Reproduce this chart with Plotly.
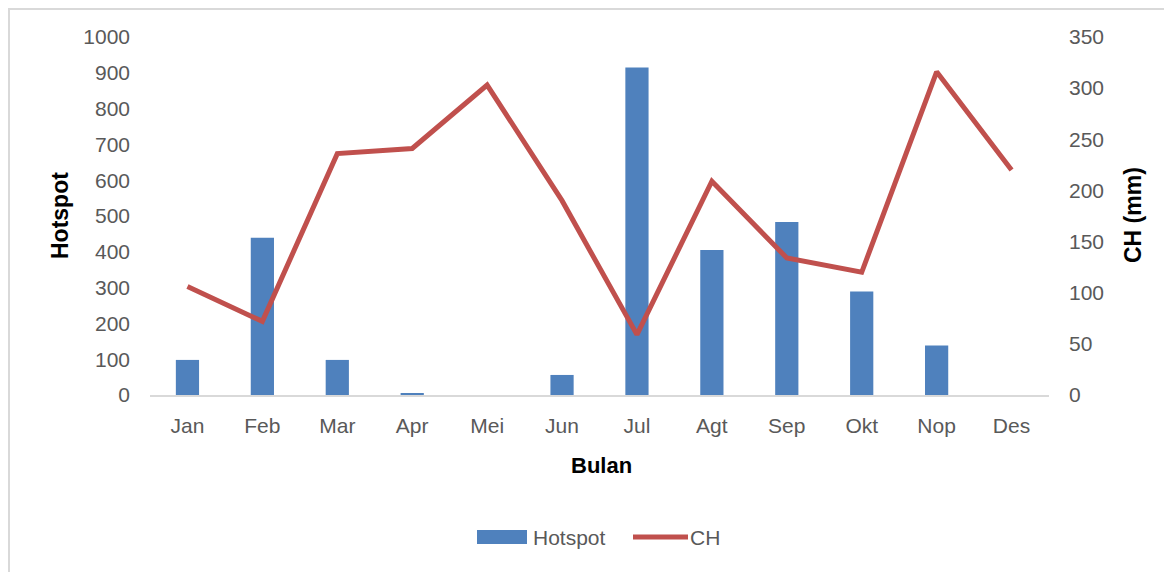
import plotly.graph_objects as go

bulan = ["Jan", "Feb", "Mar", "Apr", "Mei", "Jun", "Jul", "Agt", "Sep", "Okt", "Nop", "Des"]
hotspot = [98, 439, 98, 5, 0, 56, 915, 405, 483, 289, 138, 0]
ch_mm = [106, 72, 236, 241, 303, 190, 59, 209, 134, 120, 316, 220]

left_ticks = list(range(0, 1001, 100))
right_ticks = list(range(0, 351, 50))

FONT = "Liberation Sans"
GRAY = "#595959"
BLUE = "#4F81BD"
RED = "#C0504D"

# plot area in page pixels: x 150..1049, y 37..395
def px(x):
    return (x - 150) / 899

def py(y):
    return (395 - y) / 358

fig = go.Figure()
fig.add_trace(go.Bar(x=bulan, y=hotspot, name="Hotspot", marker=dict(color=BLUE, line=dict(width=0)),
                     yaxis="y", showlegend=False))
fig.add_trace(go.Scatter(x=bulan, y=ch_mm, name="CH", mode="lines", line=dict(color=RED, width=5),
                         yaxis="y2", showlegend=False))

fig.update_layout(
    width=1164, height=564,
    margin=dict(l=142, r=123, t=29, b=177),
    paper_bgcolor="white", plot_bgcolor="white",
    bargap=0.69,
    font=dict(family=FONT, color=GRAY, size=21),
    showlegend=False,
    xaxis=dict(showgrid=False, showline=True, linecolor="#D9D9D9", linewidth=2,
               ticks="", tickfont=dict(size=21, color=GRAY), ticklabelstandoff=11, zeroline=False),
    yaxis=dict(range=[0, 1000], tickvals=left_ticks, showgrid=False, showline=False, zeroline=False,
               ticks="", tickfont=dict(size=21, color=GRAY), ticklabelstandoff=19),
    yaxis2=dict(range=[0, 350], tickvals=right_ticks, overlaying="y", side="right", showgrid=False,
                showline=False, zeroline=False, ticks="", tickfont=dict(size=21, color=GRAY),
                ticklabelstandoff=19),
    shapes=[
        dict(type="rect", xref="paper", yref="paper",
             x0=px(9), x1=px(1167), y0=py(580), y1=py(9),
             line=dict(color="#D9D9D9", width=2), fillcolor="rgba(0,0,0,0)", layer="below"),
        # legend symbols
        dict(type="rect", xref="paper", yref="paper", x0=px(477), x1=px(527), y0=py(544), y1=py(530),
             line=dict(width=0), fillcolor=BLUE),
        dict(type="line", xref="paper", yref="paper", x0=px(633), x1=px(688), y0=py(537), y1=py(537),
             line=dict(color=RED, width=5)),
    ],
    annotations=[
        dict(text="<b>Hotspot</b>", xref="paper", yref="paper", x=px(60), y=py(216),
             textangle=-90, showarrow=False, font=dict(family=FONT, size=23, color="black"),
             xanchor="center", yanchor="middle"),
        dict(text="<b>CH (mm)</b>", xref="paper", yref="paper", x=px(1133), y=py(215),
             textangle=-90, showarrow=False, font=dict(family=FONT, size=23, color="black"),
             xanchor="center", yanchor="middle"),
        dict(text="<b>Bulan</b>", xref="paper", yref="paper", x=px(601), y=py(465),
             showarrow=False, font=dict(family=FONT, size=22, color="black"),
             xanchor="center", yanchor="middle"),
        dict(text="Hotspot", xref="paper", yref="paper", x=px(531), y=py(537),
             showarrow=False, font=dict(family=FONT, size=21, color=GRAY),
             xanchor="left", yanchor="middle"),
        dict(text="CH", xref="paper", yref="paper", x=px(688), y=py(537),
             showarrow=False, font=dict(family=FONT, size=21, color=GRAY),
             xanchor="left", yanchor="middle"),
    ],
)

fig.write_html("out.html")
